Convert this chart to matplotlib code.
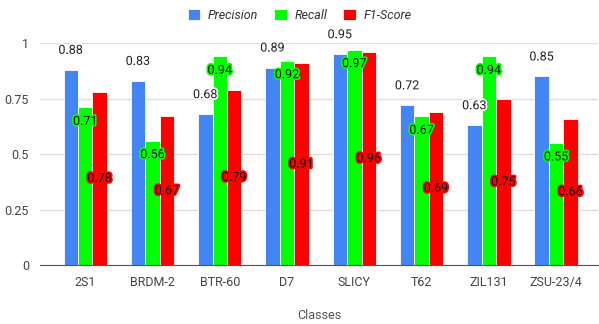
import matplotlib.pyplot as plt
import matplotlib.patheffects as pe
import numpy as np

plt.rcParams['font.family'] = ['Roboto', 'DejaVu Sans']

classes = ['2S1', 'BRDM-2', 'BTR-60', 'D7', 'SLICY', 'T62', 'ZIL131', 'ZSU-23/4']
precision = [0.88, 0.83, 0.68, 0.89, 0.95, 0.72, 0.63, 0.85]
recall = [0.71, 0.56, 0.94, 0.92, 0.97, 0.67, 0.94, 0.55]
f1_score = [0.78, 0.67, 0.79, 0.91, 0.96, 0.69, 0.75, 0.66]

blue = '#4285F4'
green = '#00FF00'
red = '#FF0000'

fig = plt.figure(figsize=(5.99, 3.24), dpi=100)
ax = fig.add_axes([0.067, 0.182, 0.931, 0.685])

x = np.arange(len(classes))
w = 0.215
b1 = ax.bar(x - w, precision, w, color=blue, edgecolor='white', linewidth=0.6, label='Precision', zorder=2)
b2 = ax.bar(x, recall, w, color=green, edgecolor='white', linewidth=0.6, label='Recall', zorder=2)
b3 = ax.bar(x + w, f1_score, w, color=red, edgecolor='white', linewidth=0.6, label='F1-Score', zorder=2)

# value labels: precision above, recall near top inside, f1 centred
for xi, v in zip(x - w, precision):
    ax.annotate(f'{v:.2f}', (xi, v), xytext=(0, 14), textcoords='offset points',
                ha='center', va='center', fontsize=9, color='#222222', zorder=4,
                path_effects=[pe.withStroke(linewidth=2.5, foreground='white')])
for xi, v in zip(x, recall):
    ax.annotate(f'{v:.2f}', (xi, v), xytext=(0, -10), textcoords='offset points',
                ha='center', va='center', fontsize=9, color='#111111', zorder=4,
                path_effects=[pe.withStroke(linewidth=2.5, foreground=green)])
for xi, v in zip(x + w, f1_score):
    ax.annotate(f'{v:.2f}', (xi, v / 2), ha='center', va='center', fontsize=9,
                color='#111111', zorder=4,
                path_effects=[pe.withStroke(linewidth=2.5, foreground=red)])

ax.set_xlim(-0.67, 7.62)
ax.set_ylim(0, 1)
ax.set_yticks([0, 0.25, 0.5, 0.75, 1])
ax.set_yticklabels(['0', '0.25', '0.5', '0.75', '1'])
ax.set_xticks(x)
ax.set_xticklabels(classes)
ax.tick_params(axis='both', length=0, labelsize=9, colors='#444444', pad=8)
ax.grid(axis='y', color='#dddddd', linewidth=1, zorder=0)
ax.set_axisbelow(True)
for s in ['top', 'right', 'left']:
    ax.spines[s].set_visible(False)
ax.spines['bottom'].set_color('#555555')
ax.spines['bottom'].set_zorder(3)

ax.set_xlabel('Classes', fontsize=9, color='#555555', labelpad=14)

leg = fig.legend(handles=[b1, b2, b3], loc='center', bbox_to_anchor=(0.5, 0.952), ncol=3,
                 frameon=False, fontsize=9, handlelength=1.0, handleheight=1.0,
                 columnspacing=1.3, handletextpad=0.6)
for t in leg.get_texts():
    t.set_fontstyle('italic')
    t.set_color('#333333')

fig.savefig('out.png', dpi=100)
